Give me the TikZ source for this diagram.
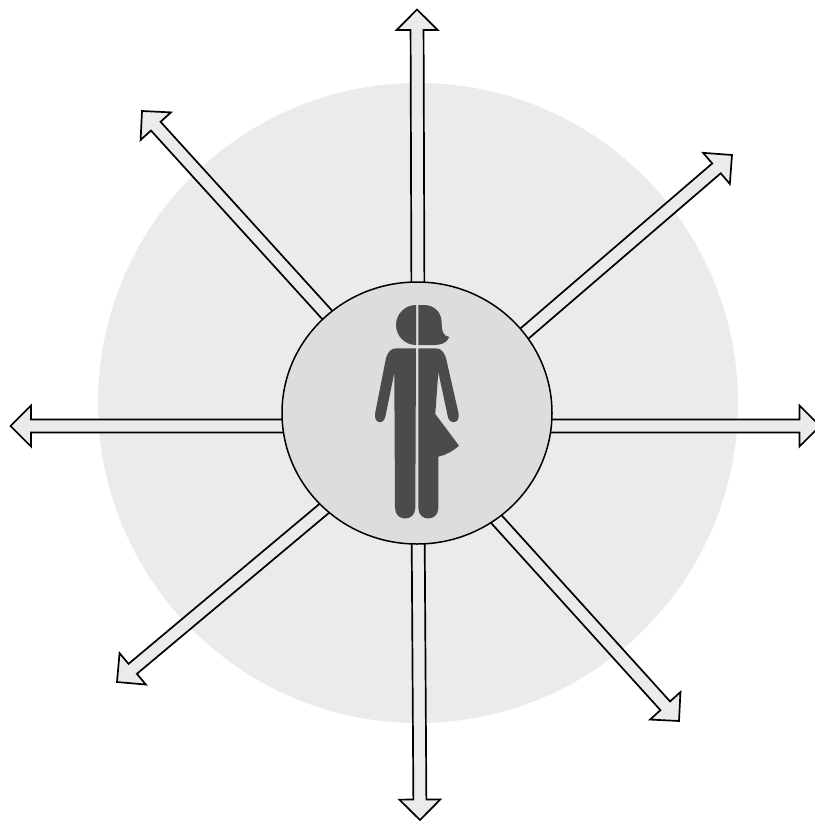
\documentclass[tikz,border=0pt]{standalone}
\usetikzlibrary{calc, shapes.geometric}
\definecolor{discgray}{HTML}{EBEBED}
\definecolor{hubgray}{HTML}{DCDDDE}
\definecolor{figgray}{HTML}{4A4B4D}

\begin{document}
\begin{tikzpicture}[
    x=1pt, y=-1pt,
    disc/.style={circle, fill=discgray, minimum size=640pt, inner sep=0pt},
    hub/.style={ellipse, draw=black, fill=hubgray, line width=1.5pt, minimum width=270pt, minimum height=262pt, inner sep=0pt},
    figure part/.style={fill=figgray},
    arrow/.style={draw=black, fill=discgray, line width=1.7pt, to path={
        ($(\tikztostart)!6.5pt!90:(\tikztotarget)$)
        -- ($($(\tikztotarget)!20.5pt!(\tikztostart)$)!6.5pt!90:(\tikztotarget)$)
        -- ($($(\tikztotarget)!20.5pt!(\tikztostart)$)!20.5pt!90:(\tikztotarget)$)
        -- (\tikztotarget)
        -- ($($(\tikztotarget)!20.5pt!(\tikztostart)$)!20.5pt!-90:(\tikztotarget)$)
        -- ($($(\tikztotarget)!20.5pt!(\tikztostart)$)!6.5pt!-90:(\tikztotarget)$)
        -- ($(\tikztostart)!6.5pt!-90:(\tikztotarget)$)
    }},
]
\useasboundingbox (0, 0) rectangle (814, 822);

\node[disc] (disc_bg) at (418, 403) {};

% arrows start inside the hub, which is drawn over them
\foreach \name/\sx/\sy/\tx/\ty in {
    n/418/320/417/9.5,
    ne/510/346/732/155,
    e/520/426/820/426,
    se/470/490/679/721,
    s/418/510/420/820,
    sw/345/491/117/682,
    w/320/426/10.5/426,
    nw/350/340/142/111} {
    \coordinate (start_\name) at (\sx, \sy);
    \coordinate (tip_\name) at (\tx, \ty);
    \draw[arrow] (start_\name) to (tip_\name);
}

\node[hub] (hub_main) at (417, 413) {};

% person, split down the middle
\fill[figure part] (416, 305) arc[start angle=270, end angle=90, radius=20] -- cycle;
\fill[figure part] (418.3, 305) -- (424, 305) .. controls (435, 305) and (441.7, 313) .. (441.7, 323)
    .. controls (441.7, 331) and (443, 336) .. (449.3, 337)
    .. controls (447, 343) and (441, 345) .. (434, 345) -- (418.3, 345) -- cycle;
\fill[figure part] (416, 348.3) -- (396, 348.3) .. controls (391, 348.3) and (388, 352) .. (386, 358)
    -- (375, 414) .. controls (374, 424) and (384, 425) .. (385.5, 416)
    -- (394.3, 373) -- (395, 508) .. controls (395, 522) and (415.3, 522) .. (415.3, 508) -- cycle;
\fill[figure part] (418.3, 348.3) -- (436, 348.3) .. controls (441, 348.3) and (444, 352) .. (446, 358)
    -- (458.7, 414) .. controls (460, 424) and (449, 425) .. (447.7, 416)
    -- (438.3, 372) -- (435.3, 414) -- (459, 445.7) .. controls (453, 451) and (446, 455) .. (438.3, 456.7)
    -- (438.3, 508) .. controls (438.3, 522) and (418.3, 522) .. (418.3, 508) -- cycle;

\end{tikzpicture}
\end{document}
